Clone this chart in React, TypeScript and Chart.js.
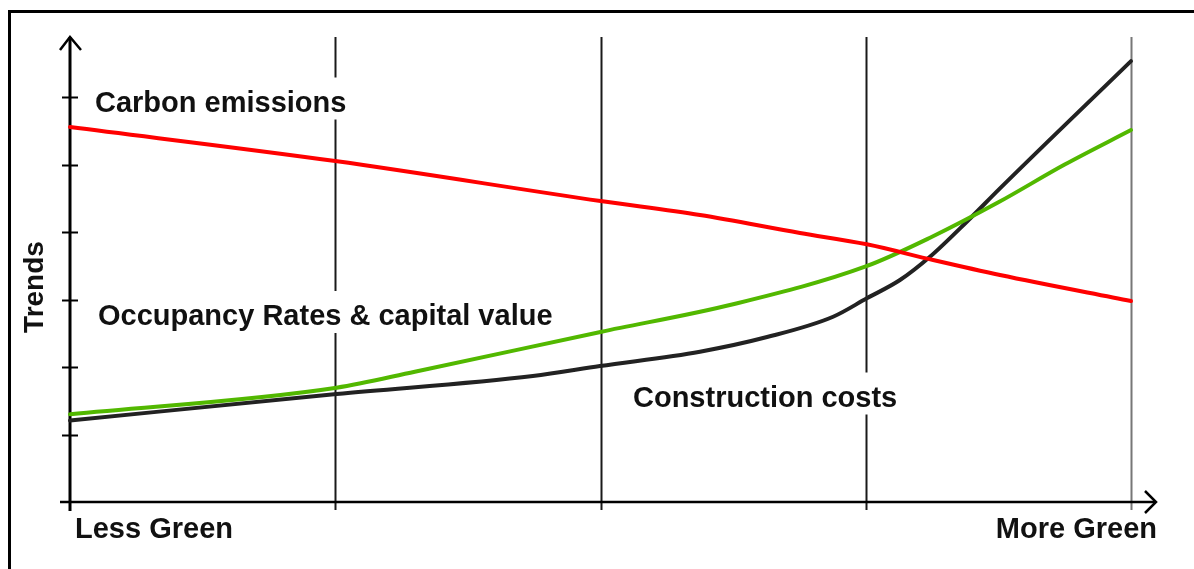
import React, { useEffect, useRef } from "react";
import { Chart, registerables } from "chart.js";

Chart.register(...registerables);

// x: 0 = "Less Green" ... 4 = "More Green" (grid intervals)
// y: trend level in tick units
const carbonX = [0, 1, 2, 2.375, 2.752, 3.004, 3.254, 3.506, 4];
const carbonY = [5.556, 5.052, 4.459, 4.252, 3.985, 3.818, 3.585, 3.363, 2.978];

const occupancyX = [0, 1.005, 1.3, 2, 2.5, 3, 3.25, 3.5, 3.75, 4];
const occupancyY = [1.299, 1.693, 1.93, 2.52, 2.93, 3.49, 3.93, 4.44, 5.0, 5.511];

const constructionX = [0, 1.005, 1.745, 1.998, 2.375, 2.628, 2.877, 3.004, 3.129, 3.242, 3.381, 3.506, 4];
const constructionY = [1.207, 1.6, 1.867, 2.015, 2.227, 2.444, 2.745, 3.018, 3.289, 3.634, 4.153, 4.647, 6.533];

const xGridValues = [1, 2, 3, 4];
const yTickValues = [1, 2, 3, 4, 5, 6];
const xMin = 0;
const xMax = 4;
const yMin = 0;
const yMax = 6.89;

const seriesLabels = ["Carbon emissions", "Occupancy Rates & capital value", "Construction costs"];
const axisStartLabel = "Less Green";
const axisEndLabel = "More Green";
const yAxisTitle = "Trends";

const toPoints = (xs: number[], ys: number[]) => xs.map((x, i) => ({ x, y: ys[i] }));

const FONT = "bold 29px 'Liberation Sans', Arial, sans-serif";

const decorPlugin = {
  id: "decor",
  beforeDatasetsDraw(chart: any) {
    const ctx = chart.ctx as CanvasRenderingContext2D;
    const xs = chart.scales.x;
    const ys = chart.scales.y;
    const x0 = xs.getPixelForValue(xMin);
    const y0 = ys.getPixelForValue(yMin);
    const yTop = ys.getPixelForValue(yMax);
    ctx.save();

    // outer frame
    ctx.fillStyle = "#000";
    ctx.fillRect(8, 10, 3, chart.height);
    ctx.fillRect(8, 10, chart.width, 3);

    // vertical grid lines
    xGridValues.forEach((v, i) => {
      const px = Math.round(xs.getPixelForValue(v)) + 0.5;
      ctx.beginPath();
      ctx.strokeStyle = i === xGridValues.length - 1 ? "#777" : "#1a1a1a";
      ctx.lineWidth = 2;
      ctx.moveTo(px, yTop);
      ctx.lineTo(px, y0 + 8);
      ctx.stroke();
    });

    // x axis
    ctx.strokeStyle = "#000";
    ctx.lineWidth = 2.5;
    ctx.beginPath();
    ctx.moveTo(x0 - 10, y0);
    ctx.lineTo(xs.getPixelForValue(xMax) + 25, y0);
    ctx.stroke();
    const ax = xs.getPixelForValue(xMax) + 25;
    ctx.beginPath();
    ctx.moveTo(ax - 11, y0 - 11);
    ctx.lineTo(ax, y0);
    ctx.lineTo(ax - 11, y0 + 11);
    ctx.stroke();

    // y axis
    ctx.lineWidth = 3;
    ctx.beginPath();
    ctx.moveTo(x0, y0 + 9);
    ctx.lineTo(x0, yTop);
    ctx.stroke();
    ctx.lineWidth = 2.5;
    ctx.beginPath();
    ctx.moveTo(x0 - 10, yTop + 13);
    ctx.lineTo(x0, yTop);
    ctx.lineTo(x0 + 11, yTop + 13);
    ctx.stroke();

    // y ticks
    ctx.lineWidth = 2;
    yTickValues.forEach((v) => {
      const py = Math.round(ys.getPixelForValue(v)) + 0.5;
      ctx.beginPath();
      ctx.moveTo(x0 - 8, py);
      ctx.lineTo(x0 + 8, py);
      ctx.stroke();
    });

    // series labels with white background
    ctx.font = FONT;
    ctx.textBaseline = "alphabetic";
    ctx.textAlign = "left";
    const labelPos = [
      { x: 95, y: 111.5 },
      { x: 98, y: 325 },
      { x: 633, y: 406.5 },
    ];
    seriesLabels.forEach((t, i) => {
      const p = labelPos[i];
      const w = ctx.measureText(t).width;
      ctx.fillStyle = "#fff";
      ctx.fillRect(p.x - 6, p.y - 34, w + 12, 42);
      ctx.fillStyle = "#111";
      ctx.fillText(t, p.x, p.y);
    });

    // axis end labels
    ctx.fillStyle = "#111";
    ctx.fillText(axisStartLabel, 75, 538);
    ctx.textAlign = "right";
    ctx.fillText(axisEndLabel, 1157, 538);

    // y title
    ctx.save();
    ctx.translate(43, 287);
    ctx.rotate(-Math.PI / 2);
    ctx.textAlign = "center";
    ctx.font = "bold 28px 'Liberation Sans', Arial, sans-serif";
    ctx.fillText(yAxisTitle, 0, 0);
    ctx.restore();

    ctx.restore();
  },
};

export default function App() {
  const ref = useRef<HTMLCanvasElement | null>(null);
  useEffect(() => {
    if (!ref.current) return;
    const chart = new Chart(ref.current, {
      type: "line",
      data: {
        datasets: [
          {
            label: seriesLabels[0],
            data: toPoints(carbonX, carbonY),
            borderColor: "#ff0000",
            borderWidth: 4,
          },
          {
            label: seriesLabels[1],
            data: toPoints(occupancyX, occupancyY),
            borderColor: "#52b800",
            borderWidth: 4,
          },
          {
            label: seriesLabels[2],
            data: toPoints(constructionX, constructionY),
            borderColor: "#222222",
            borderWidth: 4,
          },
        ].map((d) => ({
          ...d,
          pointRadius: 0,
          fill: false,
          cubicInterpolationMode: "monotone" as const,
          borderCapStyle: "round" as const,
          borderJoinStyle: "round" as const,
          clip: false as any,
        })),
      },
      options: {
        responsive: false,
        animation: false,
        layout: { padding: { left: 70, right: 63, top: 37, bottom: 67 } },
        plugins: { legend: { display: false }, tooltip: { enabled: false } },
        scales: {
          x: { type: "linear", min: xMin, max: xMax, display: false },
          y: { type: "linear", min: yMin, max: yMax, display: false },
        },
      },
      plugins: [decorPlugin],
    });
    return () => chart.destroy();
  }, []);
  return (
    <div style={{ position: "fixed", left: 0, top: 0, width: 1194, height: 569, background: "#fff" }}>
      <canvas ref={ref} width={1194} height={569} style={{ display: "block" }} />
    </div>
  );
}
